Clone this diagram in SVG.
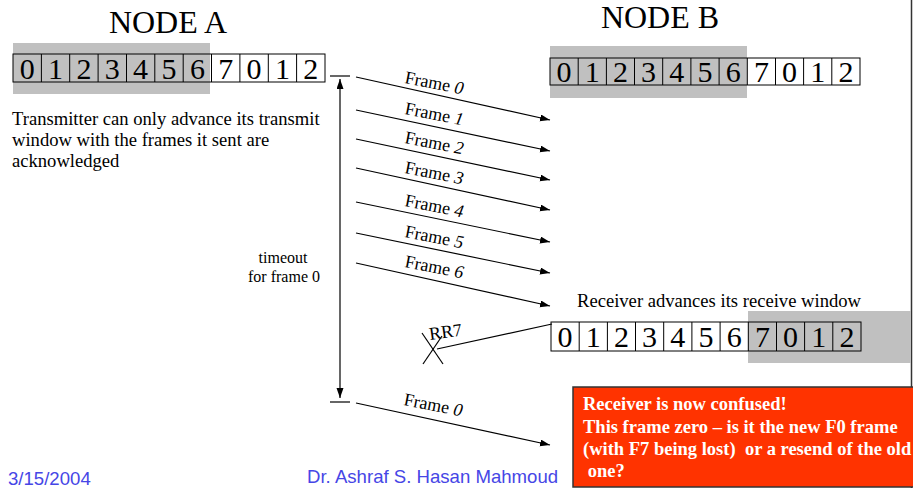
<svg xmlns="http://www.w3.org/2000/svg" width="913" height="488" viewBox="0 0 913 488">
<style>
.t{font-family:"Liberation Serif","Times New Roman",serif;fill:#000}
.title{font-size:32px;text-anchor:middle}
.dg{font-size:30px;text-anchor:middle}
.cell{fill:none;stroke:#000;stroke-width:1}
.shade{fill:#C0C0C0}
.lbl{font-size:18px}
.note{font-size:18.6px}
.small{font-size:16px;text-anchor:middle}
.conn{stroke:#000;stroke-width:1.2;fill:none}
.foot{font-family:"Liberation Sans",Arial,sans-serif;font-size:18.6px;fill:#4646E6}
.red{font-family:"Liberation Serif","Times New Roman",serif;font-size:18.5px;font-weight:bold;fill:#fff}
</style>
<defs>
<marker id="ah" markerUnits="userSpaceOnUse" markerWidth="11" markerHeight="8" refX="10" refY="3.5" orient="auto-start-reverse">
<path d="M0,0 L10,3.5 L0,7 z" fill="#000"/>
</marker>
</defs>
<rect width="913" height="488" fill="#fff"/>
<line x1="911.5" y1="0" x2="911.5" y2="488" stroke="#333" stroke-width="1.5"/>

<g id="nodeA">
<text class="t title" x="168" y="33">NODE A</text>
<rect class="shade" x="13" y="43" width="197" height="51"/>
<g class="cells">
<rect class="cell" x="13" y="54" width="312" height="28"/>
<path d="M41.4,54V82M69.7,54V82M98.1,54V82M126.5,54V82M154.8,54V82M183.2,54V82M211.5,54V82M239.9,54V82M268.3,54V82M296.6,54V82" stroke="#000" stroke-width="1"/>
</g>
<g class="t dg">
<text x="27.2" y="79">0</text><text x="55.5" y="79">1</text><text x="83.9" y="79">2</text><text x="112.3" y="79">3</text><text x="140.6" y="79">4</text><text x="169" y="79">5</text><text x="197.4" y="79">6</text><text x="225.7" y="79">7</text><text x="254.1" y="79">0</text><text x="282.5" y="79">1</text><text x="310.8" y="79">2</text>
</g>
<text class="t note" x="12" y="125">Transmitter can only advance its transmit</text>
<text class="t note" x="12" y="146">window with the frames it sent are</text>
<text class="t note" x="12" y="167">acknowledged</text>
</g>

<g id="nodeB">
<text class="t title" x="660" y="28">NODE B</text>
<rect class="shade" x="550" y="46" width="197" height="52"/>
<rect class="cell" x="550" y="58" width="310" height="27"/>
<path d="M578.2,58V85M606.4,58V85M634.5,58V85M662.7,58V85M690.9,58V85M719.1,58V85M747.3,58V85M775.5,58V85M803.6,58V85M831.8,58V85" stroke="#000" stroke-width="1"/>
<g class="t dg">
<text x="564.1" y="82">0</text><text x="592.3" y="82">1</text><text x="620.5" y="82">2</text><text x="648.6" y="82">3</text><text x="676.8" y="82">4</text><text x="705" y="82">5</text><text x="733.2" y="82">6</text><text x="761.4" y="82">7</text><text x="789.5" y="82">0</text><text x="817.7" y="82">1</text><text x="845.9" y="82">2</text>
</g>
</g>

<g id="receiverWindow">
<text class="t note" x="577" y="307">Receiver advances its receive window</text>
<rect class="shade" x="748" y="311" width="163" height="52"/>
<rect class="cell" x="551" y="322" width="310" height="29"/>
<path d="M579.2,322V351M607.4,322V351M635.5,322V351M663.7,322V351M691.9,322V351M720.1,322V351M748.3,322V351M776.5,322V351M804.6,322V351M832.8,322V351" stroke="#000" stroke-width="1"/>
<g class="t dg">
<text x="565.1" y="347">0</text><text x="593.3" y="347">1</text><text x="621.5" y="347">2</text><text x="649.6" y="347">3</text><text x="677.8" y="347">4</text><text x="706" y="347">5</text><text x="734.2" y="347">6</text><text x="762.4" y="347">7</text><text x="790.5" y="347">0</text><text x="818.7" y="347">1</text><text x="846.9" y="347">2</text>
</g>
</g>

<g id="timeout">
<line x1="330" y1="76" x2="350" y2="76" stroke="#000" stroke-width="1.2"/>
<line x1="330" y1="402" x2="350" y2="402" stroke="#000" stroke-width="1.2"/>
<text class="t small" x="283" y="263">timeout</text>
<text class="t small" x="284" y="282">for frame 0</text>
</g>

<g id="confusedNote">
<rect x="573" y="387" width="345" height="100" fill="#FF3300" stroke="#333" stroke-width="1.5"/>
<text class="red" x="583" y="410">Receiver is now confused!</text>
<text class="red" x="583" y="433">This frame zero – is it the new F0 frame</text>
<text class="red" x="583" y="455" xml:space="preserve">(with F7 being lost)  or a resend of the old</text>
<text class="red" x="583" y="477" xml:space="preserve"> one?</text>
</g>

<g id="connectors">
<line class="conn" x1="340" y1="398" x2="340" y2="79" marker-start="url(#ah)" marker-end="url(#ah)"/>
<line class="conn" x1="356" y1="77" x2="550" y2="120" marker-end="url(#ah)"/>
<line class="conn" x1="356" y1="110" x2="550" y2="151" marker-end="url(#ah)"/>
<line class="conn" x1="356" y1="139" x2="550" y2="180" marker-end="url(#ah)"/>
<line class="conn" x1="356" y1="168" x2="550" y2="210" marker-end="url(#ah)"/>
<line class="conn" x1="356" y1="202" x2="550" y2="242" marker-end="url(#ah)"/>
<line class="conn" x1="356" y1="233" x2="550" y2="273" marker-end="url(#ah)"/>
<line class="conn" x1="356" y1="263" x2="550" y2="306" marker-end="url(#ah)"/>
<line class="conn" x1="356" y1="403" x2="550" y2="445" marker-end="url(#ah)"/>
<line class="conn" x1="552" y1="324" x2="437" y2="349"/>
<line class="conn" x1="422" y1="333" x2="443" y2="364"/>
<line class="conn" x1="423" y1="364" x2="442" y2="336"/>
</g>

<g id="labels" class="t lbl">
<text transform="translate(404,83) rotate(11)">Frame <tspan font-style="italic">0</tspan></text>
<text transform="translate(404,114) rotate(11)">Frame <tspan font-style="italic">1</tspan></text>
<text transform="translate(404,143) rotate(11)">Frame <tspan font-style="italic">2</tspan></text>
<text transform="translate(404,173) rotate(11)">Frame <tspan font-style="italic">3</tspan></text>
<text transform="translate(404,206) rotate(11)">Frame <tspan font-style="italic">4</tspan></text>
<text transform="translate(404,237) rotate(11)">Frame <tspan font-style="italic">5</tspan></text>
<text transform="translate(404,267) rotate(11)">Frame <tspan font-style="italic">6</tspan></text>
<text transform="translate(403,405) rotate(11)">Frame <tspan font-style="italic">0</tspan></text>
<text transform="translate(430,340) rotate(-8)">RR7</text>
</g>

<g id="footer">
<text class="foot" x="8" y="485">3/15/2004</text>
<text class="foot" x="307" y="483">Dr. Ashraf S. Hasan Mahmoud</text>
</g>
</svg>
